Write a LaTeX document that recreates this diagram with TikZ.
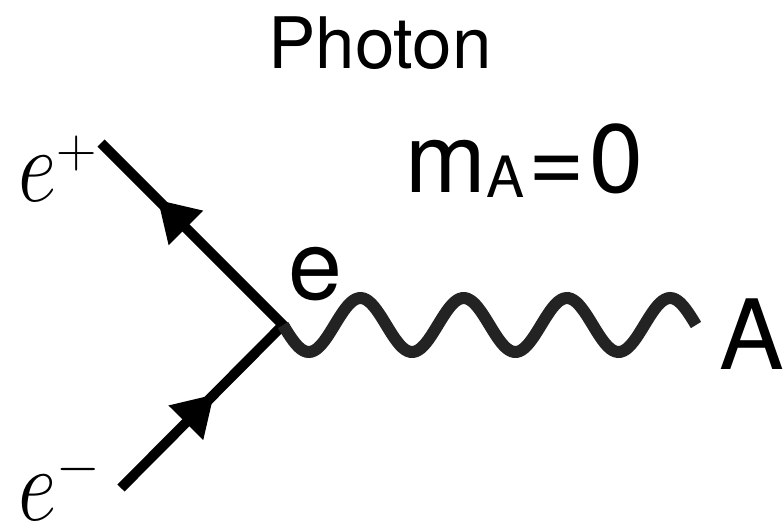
\RequirePackage{fix-cm}
\documentclass[tikz,border=0pt]{standalone}
\usepackage{fontspec}
\usepackage{graphicx}
\newfontfamily\helv{TeX Gyre Heros}
\usetikzlibrary{arrows.meta,decorations.markings}
\definecolor{wavegray}{HTML}{232323}
\newcommand{\lepton}[2]{\scalebox{0.8}[1]{$e$}\raisebox{#2}{\fontsize{56}{56}\selectfont$#1$}}

\begin{document}
\begin{tikzpicture}[x=1pt, y=-1pt,
  fermion/.style={line width=10pt, line join=miter},
  photon/.style={draw=wavegray, line width=12pt},
  lbl/.style={inner sep=0pt, font=\helv\fontsize{97}{97}\selectfont},
  elbl/.style={inner sep=0pt, font=\fontsize{105}{105}\selectfont}]
  \useasboundingbox (0,0) rectangle (784,528);
  \coordinate (v) at (283,325);
  \coordinate (pend) at (101,143);
  \coordinate (mend) at (121,488);
  \draw[fermion, decoration={markings,
      mark=at position 132pt with {\arrow{Triangle[length=40pt, width=46pt]}},
      mark=at position 407pt with {\arrow{Triangle[length=40pt, width=46pt]}}},
    postaction={decorate}] (mend) -- (v) -- (pend);
  \draw[photon, shift={(v)}] plot[domain=0:413, samples=160] (\x, {27*sin(\x/103.25*360)});
  \node[lbl, font=\helv\fontsize{71}{71}\selectfont, anchor=base] (title) at (380,68) {Photon};
  \node[lbl, anchor=base west] (mass) at (405,192) {m\raisebox{-5pt}{\fontsize{57}{57}\selectfont A}\hspace{4pt}=\hspace{5pt}0};
  \node[lbl, anchor=base west] (vertex) at (288,299) {e};
  \node[lbl, anchor=base west] (alabel) at (719,369) {A};
  \node[elbl, anchor=base west] (positron) at (18,201) {\lepton{+}{34pt}};
  \node[elbl, anchor=base west] (electron) at (18,520) {\lepton{-}{37pt}};
\end{tikzpicture}
\end{document}
